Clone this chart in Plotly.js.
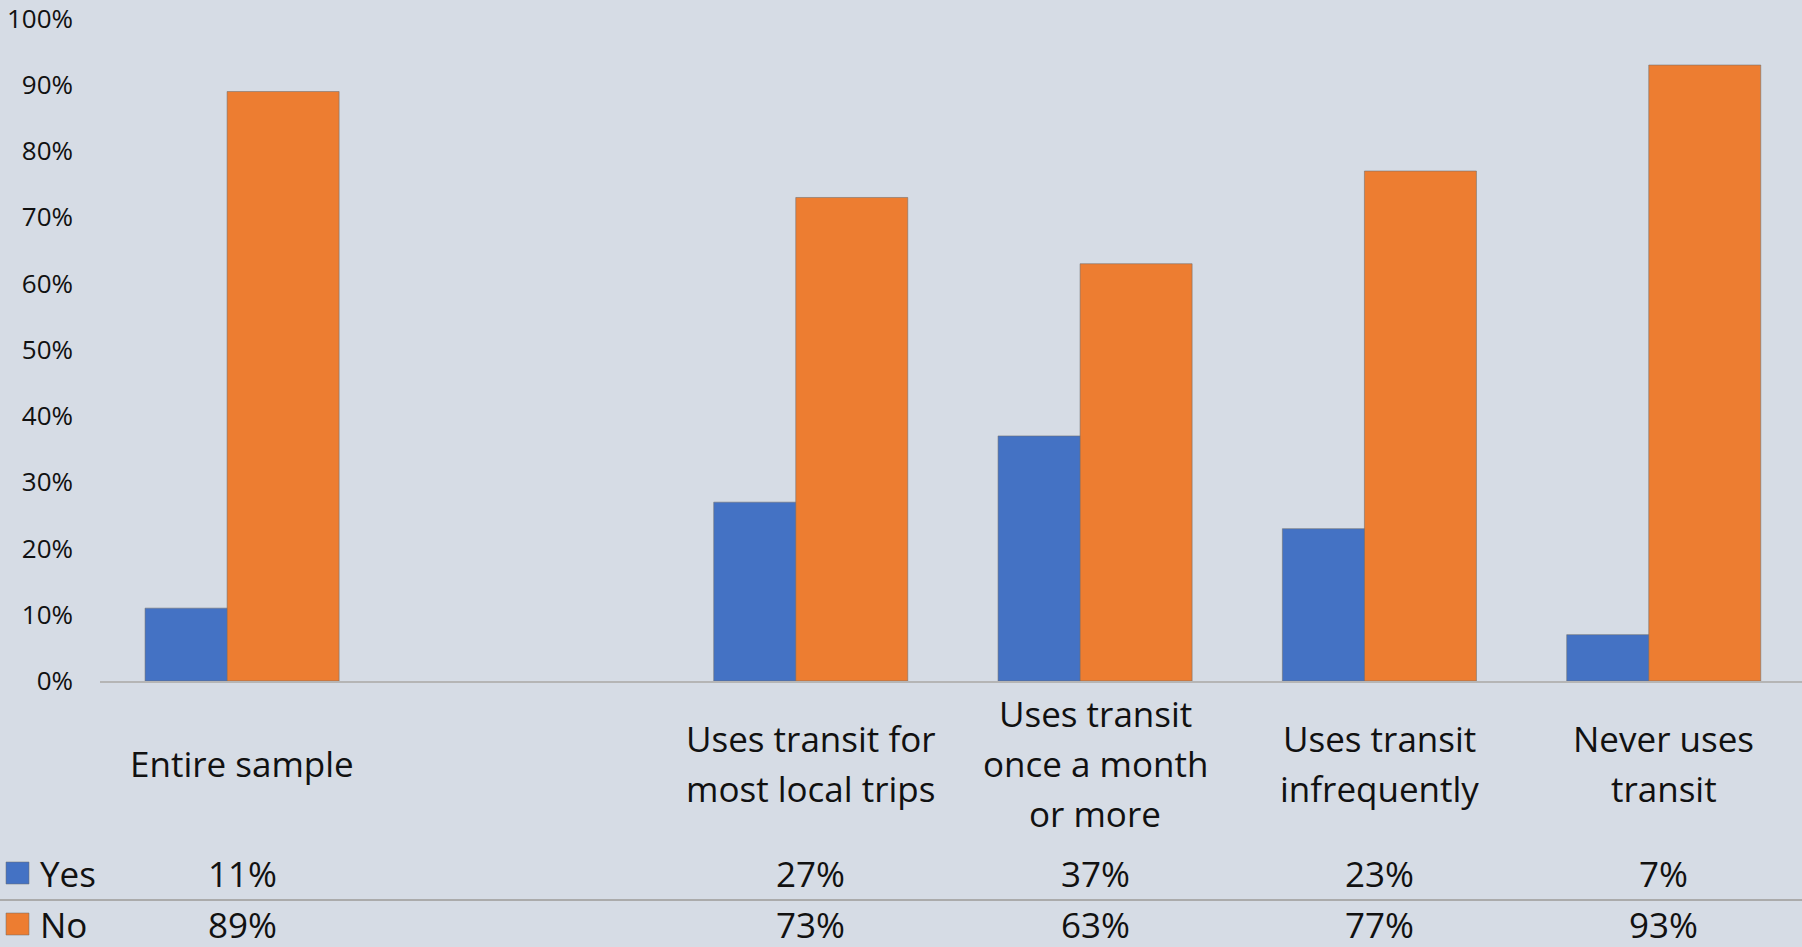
<!DOCTYPE html>
<html>
<head>
<meta charset="utf-8">
<script src="https://cdn.plot.ly/plotly-3.0.1.min.js"></script>
<style>
html, body { margin: 0; padding: 0; background: #D6DCE5; }
#chart { width: 1802px; height: 947px; }
</style>
</head>
<body>
<div id="chart"></div>
<script>
// ---- data ----
const categories = ['Entire sample', '', 'Uses transit for most local trips', 'Uses transit once a month or more', 'Uses transit infrequently', 'Never uses transit'];
const categoryLines = [['Entire sample'], [], ['Uses transit for', 'most local trips'], ['Uses transit', 'once a month', 'or more'], ['Uses transit', 'infrequently'], ['Never uses', 'transit']];
const yesValues = [0.11, null, 0.27, 0.37, 0.23, 0.07];
const noValues = [0.89, null, 0.73, 0.63, 0.77, 0.93];
const seriesNames = ['Yes', 'No'];
const yTickValues = [0, 0.1, 0.2, 0.3, 0.4, 0.5, 0.6, 0.7, 0.8, 0.9, 1.0];

// ---- styles ----
const BG = '#D6DCE5';
const BLUE = '#4472C4';
const ORANGE = '#ED7D31';
const TEXT = '#111111';
const FONT = '"Open Sans", "Noto Sans", sans-serif';

const M = { l: 100, r: 0, t: 18, b: 266 };
const W = 1802, H = 947;
const plotW = W - M.l - M.r, plotH = H - M.t - M.b;
const zeroPx = H - M.b; // pixel y of 0%
function paperX(px) { return (px - M.l) / plotW; }
function paperY(py) { return (zeroPx - py) / plotH; }

const xIdx = categories.map((c, i) => i);

const traces = [
  {
    type: 'bar', name: seriesNames[0], x: xIdx, y: yesValues,
    width: 0.292, offset: -0.3415,
    marker: { color: BLUE, line: { color: 'rgba(110,110,110,0.55)', width: 1 } },
    hoverinfo: 'skip', showlegend: false
  },
  {
    type: 'bar', name: seriesNames[1], x: xIdx, y: noValues,
    width: 0.394, offset: -0.053,
    marker: { color: ORANGE, line: { color: 'rgba(110,110,110,0.55)', width: 1 } },
    hoverinfo: 'skip', showlegend: false
  }
];

const annotations = [];
const shapes = [];

// category labels (centered around y=763, 50px line spacing)
const labelCenterPx = 763, lineGap = 50;
categoryLines.forEach((lines, i) => {
  const n = lines.length;
  lines.forEach((ln, j) => {
    const py = labelCenterPx + (j - (n - 1) / 2) * lineGap;
    annotations.push({
      x: i, xref: 'x', y: paperY(py), yref: 'paper',
      text: ln, showarrow: false, xanchor: 'center', yanchor: 'middle',
      font: { size: 35, color: TEXT, family: FONT }
    });
  });
});

// data table rows
const rowCenters = [873, 924];
const rowValues = [yesValues, noValues];
const rowColors = [BLUE, ORANGE];
rowValues.forEach((vals, r) => {
  vals.forEach((v, i) => {
    if (v === null) return;
    annotations.push({
      x: i, xref: 'x', y: paperY(rowCenters[r]), yref: 'paper',
      text: Math.round(v * 100) + '%', showarrow: false,
      xanchor: 'center', yanchor: 'middle',
      font: { size: 35, color: TEXT, family: FONT }
    });
  });
  // legend key
  shapes.push({
    type: 'rect', xref: 'paper', yref: 'paper',
    x0: paperX(6), x1: paperX(29),
    y0: paperY(rowCenters[r] - 11), y1: paperY(rowCenters[r] + 11),
    fillcolor: rowColors[r], line: { color: 'rgba(110,110,110,0.5)', width: 1 }
  });
  annotations.push({
    x: paperX(38), xref: 'paper', y: paperY(rowCenters[r]), yref: 'paper',
    text: seriesNames[r], showarrow: false, xanchor: 'left', yanchor: 'middle',
    font: { size: 35, color: TEXT, family: FONT }
  });
});

// row separator
shapes.push({
  type: 'line', xref: 'paper', yref: 'paper',
  x0: paperX(0), x1: paperX(W), y0: paperY(900), y1: paperY(900),
  line: { color: '#ABABAB', width: 2 }
});

const layout = {
  width: W, height: H,
  margin: M,
  paper_bgcolor: BG, plot_bgcolor: BG,
  font: { family: FONT, color: TEXT },
  barmode: 'overlay',
  showlegend: false,
  xaxis: {
    range: [-0.5, 5.486], showgrid: false, zeroline: false,
    showline: true, linecolor: '#B5B5B5', linewidth: 1.5,
    showticklabels: false, ticks: '', fixedrange: true
  },
  yaxis: {
    range: [0, 1.001], tickvals: yTickValues, tickformat: '.0%',
    showgrid: false, zeroline: false, showline: false, ticks: '',
    ticklabelstandoff: 26, ticklabeloverflow: 'allow',
    tickfont: { size: 26, color: TEXT, family: FONT }, fixedrange: true
  },
  annotations: annotations,
  shapes: shapes
};

Plotly.newPlot('chart', traces, layout, { displayModeBar: false, staticPlot: true });
</script>
</body>
</html>
